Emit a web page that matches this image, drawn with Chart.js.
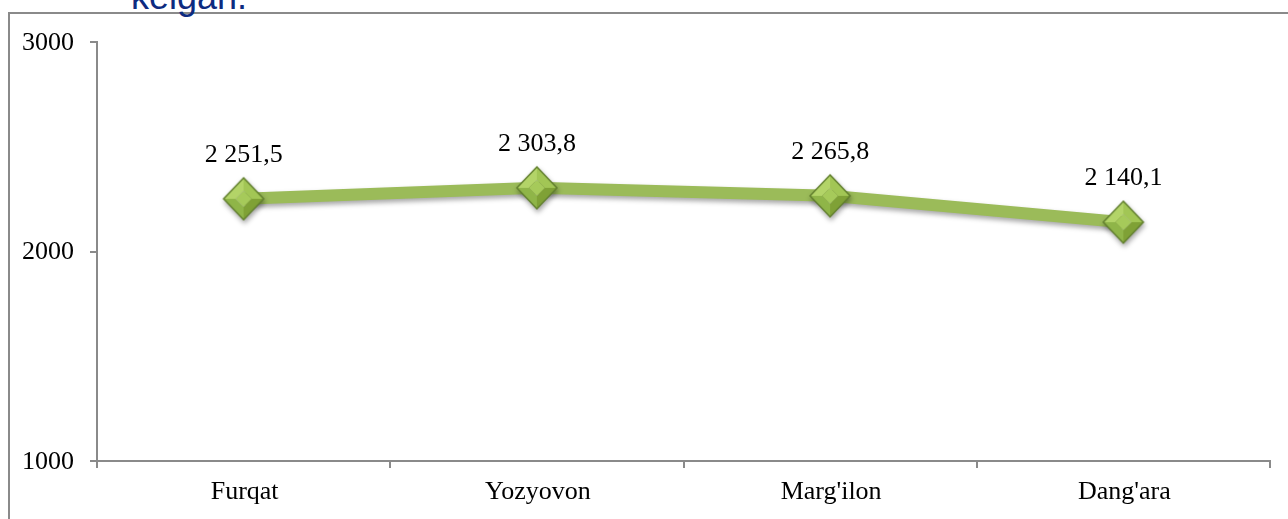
<!DOCTYPE html>
<html>
<head>
<meta charset="utf-8">
<script src="https://cdn.jsdelivr.net/npm/chart.js@4"></script>
<style>
  html, body { margin: 0; padding: 0; background: #fff; overflow: hidden; }
  #wrap { position: relative; width: 1288px; height: 519px; }
  #frame {
    position: absolute; left: 8px; top: 12px; width: 1300px; height: 540px;
    border-left: 2px solid #8a8a8a; border-top: 2px solid #8a8a8a;
  }
  #head {
    position: absolute; left: 131px; top: -23px;
    font: 36px "Liberation Sans", Arial, sans-serif; color: #0d2b80;
    line-height: 40px; white-space: nowrap;
  }
  canvas { position: absolute; left: 0; top: 0; }
</style>
</head>
<body>
<div id="wrap">
  <div id="frame"></div>
  <div id="head">kelgan.</div>
  <canvas id="chart" width="1288" height="519"></canvas>
</div>
<script>
const categories = ["Furqat", "Yozyovon", "Marg'ilon", "Dang'ara"];
const values = [2251.5, 2303.8, 2265.8, 2140.1];
const yTicks = [1000, 2000, 3000];

// "2 251,5" style
function fmt(v) {
  const parts = v.toFixed(1).split(".");
  return parts[0].replace(/\B(?=(\d{3})+(?!\d))/g, " ") + "," + parts[1];
}

// diamond marker with bevelled faces
function makeDiamond() {
  const w = 44, h = 46;
  const c = document.createElement("canvas");
  c.width = w; c.height = h;
  const g = c.getContext("2d");
  const cx = w / 2, cy = h / 2, rx = 20, ry = 21, ix = 8, iy = 8;
  const T = [cx, cy - ry], R = [cx + rx, cy], B = [cx, cy + ry], L = [cx - rx, cy];
  const t = [cx, cy - iy], r = [cx + ix, cy], b = [cx, cy + iy], l = [cx - ix, cy];
  const face = (pts, col) => {
    g.beginPath();
    g.moveTo(pts[0][0], pts[0][1]);
    pts.slice(1).forEach((p) => g.lineTo(p[0], p[1]));
    g.closePath();
    g.fillStyle = col;
    g.fill();
  };
  face([L, T, t, l], "#b3d468");
  face([T, R, r, t], "#a2c655");
  face([R, B, b, r], "#7fa136");
  face([B, L, l, b], "#8fb548");
  face([t, r, b, l], "#a6ca5a");
  g.beginPath();
  g.moveTo(T[0], T[1]); g.lineTo(R[0], R[1]); g.lineTo(B[0], B[1]); g.lineTo(L[0], L[1]);
  g.closePath();
  g.lineWidth = 1.5;
  g.strokeStyle = "#62802e";
  g.stroke();
  return c;
}

const shadowPlugin = {
  id: "lineShadow",
  beforeDatasetDraw(chart) {
    const ctx = chart.ctx;
    ctx.save();
    ctx.shadowColor = "rgba(0,0,0,0.35)";
    ctx.shadowBlur = 5;
    ctx.shadowOffsetX = 1;
    ctx.shadowOffsetY = 3;
  },
  afterDatasetDraw(chart) {
    chart.ctx.restore();
  }
};

const FONT = '26px "Liberation Serif", "Times New Roman", serif';

// tick labels and value labels, placed from the chart's scales
const labelPlugin = {
  id: "textLabels",
  afterDraw(chart) {
    const ctx = chart.ctx;
    const xs = chart.scales.x, ys = chart.scales.y;
    const meta = chart.getDatasetMeta(0);
    ctx.save();
    ctx.font = FONT;
    ctx.fillStyle = "#000";
    ctx.textBaseline = "middle";
    ctx.textAlign = "right";
    yTicks.forEach((v) => ctx.fillText(String(v), ys.right - 23, ys.getPixelForValue(v) + 1));
    ctx.textAlign = "center";
    categories.forEach((c, i) => ctx.fillText(c, xs.getPixelForValue(i) + 1, xs.top + 31));
    meta.data.forEach((pt, i) => ctx.fillText(fmt(values[i]), pt.x, pt.y - 44));
    ctx.restore();
  }
};

new Chart(document.getElementById("chart"), {
  type: "line",
  data: {
    labels: categories,
    datasets: [{
      data: values,
      borderColor: "#9bbb59",
      borderWidth: 12,
      tension: 0,
      pointStyle: makeDiamond(),
      pointRadius: 21,
      pointHoverRadius: 21
    }]
  },
  options: {
    responsive: false,
    animation: false,
    events: [],
    layout: { autoPadding: false, padding: { top: 42, right: 18, left: 0, bottom: 0 } },
    plugins: { legend: { display: false }, tooltip: { enabled: false } },
    scales: {
      x: {
        offset: true,
        grid: { offset: true, drawOnChartArea: false, drawTicks: true, tickLength: 7, color: "#8a8a8a", lineWidth: 2 },
        border: { display: true, color: "#8a8a8a", width: 2 },
        ticks: { display: false },
        afterFit(s) { s.height = 58; }
      },
      y: {
        min: 1000,
        max: 3000,
        afterBuildTicks(s) { s.ticks = yTicks.map((v) => ({ value: v })); },
        grid: { drawOnChartArea: false, drawTicks: true, tickLength: 7, color: "#8a8a8a", lineWidth: 2 },
        border: { display: true, color: "#8a8a8a", width: 2 },
        ticks: { display: false },
        afterFit(s) { s.width = 97; }
      }
    }
  },
  plugins: [shadowPlugin, labelPlugin]
});
</script>
</body>
</html>
